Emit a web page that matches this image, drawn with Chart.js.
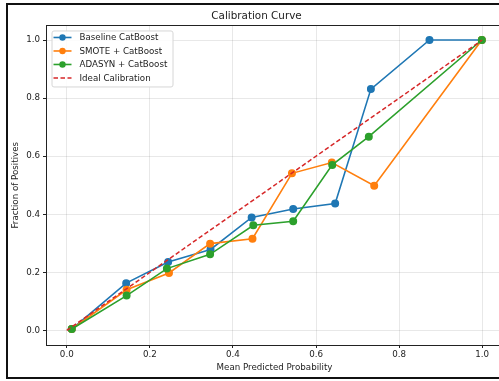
<!DOCTYPE html>
<html>
<head>
<meta charset="utf-8">
<script src="https://cdn.jsdelivr.net/npm/chart.js@4"></script>
<style>
  html, body { margin: 0; padding: 0; background: #fff; overflow: hidden; }
  #wrap { position: relative; width: 499px; height: 381px; overflow: hidden; }
  canvas { position: absolute; left: 0; top: 0; }
</style>
</head>
<body>
<div id="wrap">
  <canvas id="calibChart" width="510" height="381"></canvas>
</div>
<script>
// 눈금 값
const xTicks = [0, 0.2, 0.4, 0.6, 0.8, 1.0];
const yTicks = [0, 0.2, 0.4, 0.6, 0.8, 1.0];

// Baseline CatBoost
const baseX = [0.012, 0.143, 0.244, 0.346, 0.445, 0.545, 0.646, 0.732, 0.873, 0.999];
const baseY = [0.005, 0.163, 0.236, 0.279, 0.389, 0.418, 0.437, 0.831, 1.0, 1.0];

// SMOTE + CatBoost
const smoteX = [0.012, 0.144, 0.246, 0.345, 0.447, 0.542, 0.638, 0.740, 0.999];
const smoteY = [0.005, 0.140, 0.198, 0.299, 0.316, 0.541, 0.578, 0.498, 1.0];

// ADASYN + CatBoost
const adasynX = [0.012, 0.144, 0.241, 0.345, 0.449, 0.545, 0.639, 0.727, 0.999];
const adasynY = [0.005, 0.120, 0.213, 0.262, 0.362, 0.376, 0.570, 0.667, 1.0];

// 이상적인 보정선
const idealX = [0, 1];
const idealY = [0, 1];

const toPoints = (xs, ys) => xs.map((x, i) => ({ x: x, y: ys[i] }));

Chart.defaults.font.family = "'DejaVu Sans', sans-serif";
Chart.defaults.color = "#222";

// 바깥 테두리 + 위쪽 축 테두리 (오른쪽은 잘려서 보이지 않음)
const spines = {
  id: "spines",
  beforeDraw(chart) {
    const ctx = chart.ctx;
    ctx.save();
    ctx.strokeStyle = "#111";
    ctx.lineWidth = 2;
    ctx.strokeRect(7, 4, 520, 374);
    ctx.restore();
  },
  afterDatasetsDraw(chart) {
    const a = chart.chartArea;
    const ctx = chart.ctx;
    ctx.save();
    ctx.strokeStyle = "#222";
    ctx.lineWidth = 1;
    ctx.beginPath();
    ctx.moveTo(a.left, Math.round(a.top) + 0.5);
    ctx.lineTo(chart.width, Math.round(a.top) + 0.5);
    ctx.stroke();
    ctx.restore();
  },
};

// matplotlib 스타일 범례 (선 + 마커)
const legendBox = {
  id: "legendBox",
  afterDraw(chart) {
    const ctx = chart.ctx;
    const a = chart.chartArea;
    const x0 = a.left + 5.5, y0 = a.top + 5;
    const w = 121, h = 56;
    ctx.save();
    ctx.beginPath();
    ctx.roundRect(x0 + 0.5, y0 + 0.5, w, h, 2);
    ctx.fillStyle = "rgba(255,255,255,0.85)";
    ctx.fill();
    ctx.strokeStyle = "#d6d6d6";
    ctx.lineWidth = 1;
    ctx.stroke();
    ctx.font = "8.7px 'DejaVu Sans'";
    ctx.textBaseline = "middle";
    chart.data.datasets.forEach((ds, i) => {
      const yy = y0 + 7 + i * 13.5;
      ctx.strokeStyle = ds.borderColor;
      ctx.lineWidth = ds.borderWidth;
      ctx.setLineDash(ds.borderDash || []);
      ctx.beginPath();
      ctx.moveTo(x0 + 2, yy);
      ctx.lineTo(x0 + 20, yy);
      ctx.stroke();
      ctx.setLineDash([]);
      if (ds.pointRadius > 0) {
        ctx.fillStyle = ds.borderColor;
        ctx.beginPath();
        ctx.arc(x0 + 11, yy, ds.pointRadius, 0, Math.PI * 2);
        ctx.fill();
      }
      ctx.fillStyle = "#222";
      ctx.fillText(ds.label, x0 + 28, yy + 0.5);
    });
    ctx.restore();
  },
};

const ctx = document.getElementById("calibChart").getContext("2d");
const chart = new Chart(ctx, {
  type: "scatter",
  data: {
    datasets: [
      {
        label: "Baseline CatBoost",
        data: toPoints(baseX, baseY),
        borderColor: "#1f77b4",
        backgroundColor: "#1f77b4",
        showLine: true,
        borderWidth: 1.6,
        pointRadius: 3.2,
        order: 3,
      },
      {
        label: "SMOTE + CatBoost",
        data: toPoints(smoteX, smoteY),
        borderColor: "#ff7f0e",
        backgroundColor: "#ff7f0e",
        showLine: true,
        borderWidth: 1.6,
        pointRadius: 3.2,
        order: 2,
      },
      {
        label: "ADASYN + CatBoost",
        data: toPoints(adasynX, adasynY),
        borderColor: "#2ca02c",
        backgroundColor: "#2ca02c",
        showLine: true,
        borderWidth: 1.6,
        pointRadius: 3.2,
        order: 1,
      },
      {
        label: "Ideal Calibration",
        data: toPoints(idealX, idealY),
        borderColor: "#d62728",
        backgroundColor: "#d62728",
        showLine: true,
        borderWidth: 1.5,
        borderDash: [4.5, 2.5],
        pointRadius: 0,
        order: 0,
      },
    ],
  },
  options: {
    responsive: false,
    animation: false,
    events: [],
    layout: { padding: { top: 4, left: 10, right: 7, bottom: 6 } },
    plugins: {
      legend: { display: false },
      tooltip: { enabled: false },
      title: {
        display: true,
        text: "Calibration Curve",
        font: { size: 10.4, weight: "normal" },
        color: "#222",
        padding: { top: 6, bottom: 3 },
      },
    },
    scales: {
      x: {
        type: "linear",
        min: -0.05,
        max: 1.05,
        afterBuildTicks: (s) => { s.ticks = xTicks.map((v) => ({ value: v })); },
        afterFit: (s) => { s.height = 30; },
        ticks: { font: { size: 8.7 }, color: "#222", padding: 2, maxRotation: 0, callback: (v) => v.toFixed(1) },
        grid: { color: "rgba(0,0,0,0.09)", tickColor: "#222", tickLength: 3, lineWidth: 1 },
        border: { color: "#222", width: 1 },
        title: { display: true, text: "Mean Predicted Probability", font: { size: 8.7 }, color: "#222", padding: { top: 0, bottom: 2 } },
      },
      y: {
        type: "linear",
        min: -0.05,
        max: 1.05,
        afterBuildTicks: (s) => { s.ticks = yTicks.map((v) => ({ value: v })); },
        afterFit: (s) => { s.width = 36; },
        ticks: { font: { size: 8.7 }, color: "#222", padding: 3, callback: (v) => v.toFixed(1) },
        grid: { color: "rgba(0,0,0,0.09)", tickColor: "#222", tickLength: 3, lineWidth: 1 },
        border: { color: "#222", width: 1 },
        title: { display: true, text: "Fraction of Positives", font: { size: 8.7 }, color: "#222", padding: { top: 1, bottom: 0 } },
      },
    },
  },
  plugins: [spines, legendBox],
});
</script>
</body>
</html>
